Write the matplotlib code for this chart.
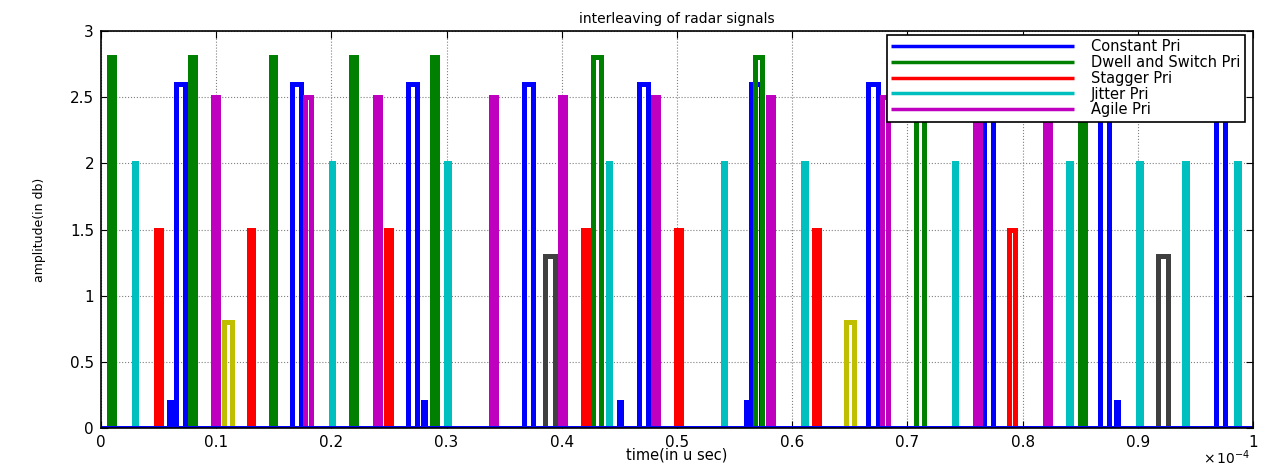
import matplotlib.pyplot as plt

# pulse centres (time, units of 1e-4 s), pulse widths, amplitudes
constant_t = [0.0692, 0.1697, 0.2706, 0.3710, 0.4711, 0.5686, 0.6701, 0.7704, 0.8711, 0.9715]
constant_w = [0.008] * len(constant_t)
constant_amp = 2.6

small_t = [0.0596, 0.2801, 0.4503, 0.5603, 0.8819]
small_w = [0.0015] * len(small_t)
small_amp = 0.2

dwell_t = [0.0095, 0.0794, 0.1493, 0.2193, 0.2895, 0.4304, 0.5707, 0.7111, 0.8522]
dwell_w = [0.0043, 0.0043, 0.0043, 0.0043, 0.0043, 0.0067, 0.0067, 0.0067, 0.0043]
dwell_amp = 2.8

stagger_t = [0.0497, 0.1302, 0.2498, 0.4203, 0.5017, 0.6209, 0.7905]
stagger_w = [0.0043, 0.0043, 0.0043, 0.0043, 0.0043, 0.0043, 0.0052]
stagger_amp = 1.5

jitter_t = [0.0298, 0.2005, 0.3008, 0.4407, 0.5406, 0.6107, 0.7413, 0.8407, 0.9015, 0.9414, 0.9865]
jitter_w = [0.002] * len(jitter_t)
jitter_amp = 2.0

agile_t = [0.0997, 0.1797, 0.2403, 0.3409, 0.4003, 0.4815, 0.5813, 0.6806, 0.7610, 0.8214]
agile_w = [0.0045] * len(agile_t)
agile_amp = 2.5

yellow_t = [0.1102, 0.6504]
yellow_w = [0.0066, 0.0066]
yellow_amp = 0.8

gray_t = [0.3899, 0.9221]
gray_w = [0.0087, 0.0087]
gray_amp = 1.3

labels = ['Constant Pri', 'Dwell and Switch Pri', 'Stagger Pri', 'Jitter Pri', 'Agile Pri']


def waveform(centres, widths, amp):
    xs = [0.0]
    ys = [0.0]
    for c, w in zip(centres, widths):
        xs += [c - w / 2, c - w / 2, c + w / 2, c + w / 2]
        ys += [0, amp, amp, 0]
    xs.append(1.0)
    ys.append(0.0)
    return xs, ys


plt.rcParams['font.family'] = ['DejaVu Sans']
fig = plt.figure(figsize=(12.68, 4.66), dpi=100)
ax = fig.add_axes([101 / 1268, 1 - 428 / 466, 1152 / 1268, 397 / 466])

lw = 3.6
kw = dict(lw=lw, solid_joinstyle='miter', solid_capstyle='butt')

series = [
    (constant_t, constant_w, constant_amp, '#0000ff'),
    (dwell_t, dwell_w, dwell_amp, '#008000'),
    (stagger_t, stagger_w, stagger_amp, '#ff0000'),
    (jitter_t, jitter_w, jitter_amp, '#00bfbf'),
    (agile_t, agile_w, agile_amp, '#bf00bf'),
]
handles = []
for t, w, a, col in series:
    x, y = waveform(t, w, a)
    h, = ax.plot(x, y, color=col, **kw)
    handles.append(h)

x, y = waveform(small_t, small_w, small_amp)
ax.plot(x, y, color='#0000ff', **kw)
x, y = waveform(yellow_t, yellow_w, yellow_amp)
ax.plot(x, y, color='#bfbf00', **kw)
x, y = waveform(gray_t, gray_w, gray_amp)
ax.plot(x, y, color='#404040', **kw)
ax.axhline(0, color='#0000ff', lw=lw)

ax.set_xlim(0, 1)
ax.set_ylim(0, 3)
ax.set_xticks([i / 10 for i in range(11)])
ax.set_xticklabels(['0', '0.1', '0.2', '0.3', '0.4', '0.5', '0.6', '0.7', '0.8', '0.9', '1'])
ax.set_yticks([i / 2 for i in range(7)])
ax.set_yticklabels(['0', '0.5', '1', '1.5', '2', '2.5', '3'])
ax.tick_params(direction='in', length=5, top=True, right=True, labelsize=11, pad=5)
ax.grid(True, color='#808080', linestyle=':', lw=0.8)
for s in ax.spines.values():
    s.set_linewidth(1.2)

ax.set_title('interleaving of radar signals', fontsize=10, pad=6)
ax.set_xlabel('time(in u sec)', fontsize=10.5, va='top')
ax.xaxis.set_label_coords(0.5, -0.05)
ax.set_ylabel('amplitude(in db)', fontsize=9)
ax.yaxis.set_label_coords(-0.048, 0.5)
ax.text(0.998, -0.091, r'$\times\,10^{-4}$', transform=ax.transAxes, ha='right', va='baseline', fontsize=10)

leg = ax.legend(handles, labels, loc='upper right', bbox_to_anchor=(0.993, 0.99), borderaxespad=0,
                fontsize=10.5, handlelength=12.5, labelspacing=0.05, fancybox=False,
                edgecolor='black', framealpha=1, borderpad=0.3, handletextpad=1.2)
leg.get_frame().set_linewidth(1.2)
for lh in leg.get_lines():
    lh.set_linewidth(2.5)

fig.savefig('out.png', dpi=100)
